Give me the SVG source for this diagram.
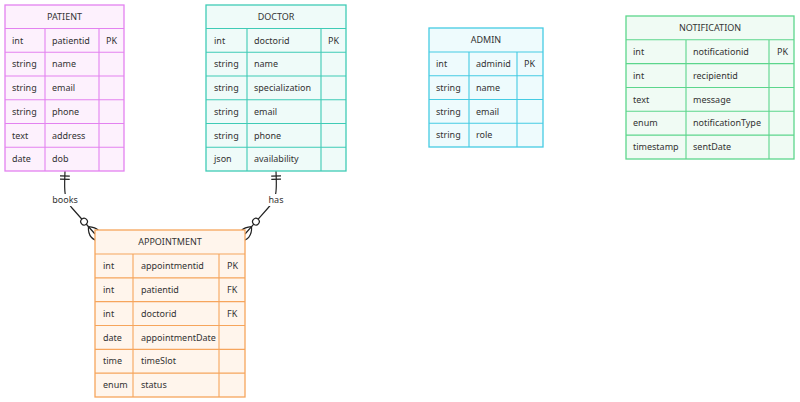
<svg xmlns="http://www.w3.org/2000/svg" width="800" height="402" viewBox="0 0 800 402">
<defs>
<style>
text{font-family:"Noto Sans","Liberation Sans",sans-serif;font-size:9px;fill:#333;}
.h{text-anchor:middle;}
.box{stroke-width:1.3;}
.ln{stroke-width:1.1;fill:none;}
.p .box{fill:#fdf1fd;stroke:#e382f0;} .p .ln{stroke:#e382f0;}
.d .box{fill:#effbf9;stroke:#3fcbb6;} .d .ln{stroke:#3fcbb6;}
.a .box{fill:#eefbfd;stroke:#45cbe3;} .a .ln{stroke:#45cbe3;}
.n .box{fill:#f0fbf4;stroke:#5cd68c;} .n .ln{stroke:#5cd68c;}
.o .box{fill:#fff5ec;stroke:#f6a55c;} .o .ln{stroke:#f6a55c;}
.rel{fill:none;stroke:#222;stroke-width:1.2;}
.lbl{fill:#fff;}
</style>
<marker id="oneStart" viewBox="0 0 18 18" refX="0" refY="9" markerUnits="userSpaceOnUse" markerWidth="9.9" markerHeight="9.9" orient="auto">
<path d="M9,0 L9,18 M15,0 L15,18" stroke="#222" stroke-width="2.2" fill="none"/>
</marker>
<marker id="manyEnd" viewBox="0 0 57 36" refX="39" refY="18" markerUnits="userSpaceOnUse" markerWidth="31.35" markerHeight="19.8" orient="auto">
<circle cx="9" cy="18" r="6" stroke="#222" stroke-width="2.2" fill="#fff"/>
<path d="M21,18 Q39,0 57,18 Q39,36 21,18" stroke="#222" stroke-width="2.2" fill="none"/>
</marker>
</defs>

<g id="connectors">
<path class="rel" d="M65,171 C64.5,188 63,198 72,208 L95,234" marker-start="url(#oneStart)" marker-end="url(#manyEnd)"/>
<path class="rel" d="M276,171 C276.5,188 278,198 268,208 L245,234" marker-start="url(#oneStart)" marker-end="url(#manyEnd)"/>
<rect class="lbl" x="51" y="194" width="28" height="12"/>
<text class="h" x="65" y="203.2">books</text>
<rect class="lbl" x="267" y="194" width="18" height="12"/>
<text class="h" x="276" y="203.2">has</text>
</g>

<g id="PATIENT" class="p">
<rect class="box" x="5" y="5" width="119" height="166"/>
<path class="ln" d="M5,28.5H124M5,52.25H124M5,76H124M5,99.75H124M5,123.5H124M5,147.25H124M45,28.5V171M99,28.5V171"/>
<text class="h" x="64.5" y="20">PATIENT</text>
<text x="12" y="43.6">int</text><text x="52" y="43.6">patientid</text><text x="106" y="43.6">PK</text>
<text x="12" y="67.3">string</text><text x="52" y="67.3">name</text>
<text x="12" y="91.1">string</text><text x="52" y="91.1">email</text>
<text x="12" y="114.8">string</text><text x="52" y="114.8">phone</text>
<text x="12" y="138.6">text</text><text x="52" y="138.6">address</text>
<text x="12" y="162.3">date</text><text x="52" y="162.3">dob</text>
</g>

<g id="DOCTOR" class="d">
<rect class="box" x="206" y="5" width="140" height="166"/>
<path class="ln" d="M206,28.5H346M206,52.25H346M206,76H346M206,99.75H346M206,123.5H346M206,147.25H346M247,28.5V171M321,28.5V171"/>
<text class="h" x="276" y="20">DOCTOR</text>
<text x="214" y="43.6">int</text><text x="254" y="43.6">doctorid</text><text x="328" y="43.6">PK</text>
<text x="214" y="67.3">string</text><text x="254" y="67.3">name</text>
<text x="214" y="91.1">string</text><text x="254" y="91.1">specialization</text>
<text x="214" y="114.8">string</text><text x="254" y="114.8">email</text>
<text x="214" y="138.6">string</text><text x="254" y="138.6">phone</text>
<text x="214" y="162.3">json</text><text x="254" y="162.3">availability</text>
</g>

<g id="ADMIN" class="a">
<rect class="box" x="429" y="28" width="114" height="119"/>
<path class="ln" d="M429,52H543M429,75.75H543M429,99.5H543M429,123.25H543M469,52V147M517,52V147"/>
<text class="h" x="486" y="43.2">ADMIN</text>
<text x="436" y="67.1">int</text><text x="476" y="67.1">adminid</text><text x="524" y="67.1">PK</text>
<text x="436" y="90.8">string</text><text x="476" y="90.8">name</text>
<text x="436" y="114.6">string</text><text x="476" y="114.6">email</text>
<text x="436" y="138.3">string</text><text x="476" y="138.3">role</text>
</g>

<g id="NOTIFICATION" class="n">
<rect class="box" x="626" y="16" width="168" height="143"/>
<path class="ln" d="M626,39.75H794M626,63.6H794M626,87.45H794M626,111.3H794M626,135.15H794M686,39.75V159M769,39.75V159"/>
<text class="h" x="710" y="31.1">NOTIFICATION</text>
<text x="633" y="54.9">int</text><text x="693" y="54.9">notificationid</text><text x="777" y="54.9">PK</text>
<text x="633" y="78.7">int</text><text x="693" y="78.7">recipientid</text>
<text x="633" y="102.6">text</text><text x="693" y="102.6">message</text>
<text x="633" y="126.4">enum</text><text x="693" y="126.4">notificationType</text>
<text x="633" y="150.3">timestamp</text><text x="693" y="150.3">sentDate</text>
</g>

<g id="APPOINTMENT" class="o">
<rect class="box" x="95" y="230" width="150" height="167"/>
<path class="ln" d="M95,254H245M95,277.83H245M95,301.67H245M95,325.5H245M95,349.33H245M95,373.17H245M133,254V397M219,254V397"/>
<text class="h" x="170" y="245.2">APPOINTMENT</text>
<text x="103" y="269.1">int</text><text x="141" y="269.1">appointmentid</text><text x="227" y="269.1">PK</text>
<text x="103" y="292.9">int</text><text x="141" y="292.9">patientid</text><text x="227" y="292.9">FK</text>
<text x="103" y="316.8">int</text><text x="141" y="316.8">doctorid</text><text x="227" y="316.8">FK</text>
<text x="103" y="340.6">date</text><text x="141" y="340.6">appointmentDate</text>
<text x="103" y="364.4">time</text><text x="141" y="364.4">timeSlot</text>
<text x="103" y="388.3">enum</text><text x="141" y="388.3">status</text>
</g>
</svg>
